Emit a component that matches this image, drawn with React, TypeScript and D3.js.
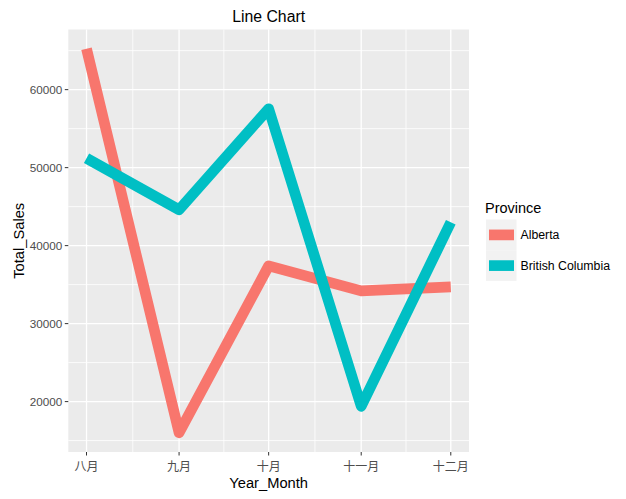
import React from "react";
import * as d3 from "d3";

const monthDates = ["2017-08-01", "2017-09-01", "2017-10-01", "2017-11-01", "2017-12-01"];
const monthLabels = ["八月", "九月", "十月", "十一月", "十二月"];
const provinces = ["Alberta", "British Columbia"];
const albertaSales = [65250, 16000, 37400, 34200, 34700];
const bcSales = [51200, 44600, 57550, 19400, 43000];
const yTicks = [20000, 30000, 40000, 50000, 60000];
const yMinor = [15000, 25000, 35000, 45000, 55000, 65000];
const colors = ["#F8766D", "#00BFC4"];

const W = 626;
const H = 499;
const panel = { left: 68.3, right: 469, top: 29.5, bottom: 452 };
const FONT = "Arial, 'Liberation Sans', sans-serif";
const CJK = "'Noto Sans CJK SC', sans-serif";

export default function App() {
  const parse = d3.timeParse("%Y-%m-%d");
  const dates = monthDates.map((d) => parse(d) as Date);
  const t0 = +dates[0];
  const t1 = +dates[dates.length - 1];
  const tpad = (t1 - t0) * 0.05;
  const x = d3
    .scaleTime()
    .domain([new Date(t0 - tpad), new Date(t1 + tpad)])
    .range([panel.left, panel.right]);

  const all = [...albertaSales, ...bcSales];
  const [vmin, vmax] = d3.extent(all) as [number, number];
  const vpad = (vmax - vmin) * 0.05;
  const y = d3
    .scaleLinear()
    .domain([vmin - vpad, vmax + vpad])
    .range([panel.bottom, panel.top]);

  const xMinor = dates.slice(0, -1).map((d, i) => new Date((+d + +dates[i + 1]) / 2));

  const series = [albertaSales, bcSales];
  const line = d3
    .line<number>()
    .x((_, i) => x(dates[i]))
    .y((v) => y(v));

  const cx = (panel.left + panel.right) / 2;
  const cy = (panel.top + panel.bottom) / 2;

  return (
    <svg
      width={W}
      height={H}
      style={{ position: "absolute", left: 0, top: 0, background: "#fff" }}
    >
      <rect
        x={panel.left}
        y={panel.top}
        width={panel.right - panel.left}
        height={panel.bottom - panel.top}
        fill="#EBEBEB"
      />
      <g stroke="#fff">
        {yMinor.map((v) => (
          <line key={"ym" + v} x1={panel.left} x2={panel.right} y1={y(v)} y2={y(v)} strokeWidth={0.8} />
        ))}
        {xMinor.map((d, i) => (
          <line key={"xm" + i} x1={x(d)} x2={x(d)} y1={panel.top} y2={panel.bottom} strokeWidth={0.8} />
        ))}
        {yTicks.map((v) => (
          <line key={"y" + v} x1={panel.left} x2={panel.right} y1={y(v)} y2={y(v)} strokeWidth={1.3} />
        ))}
        {dates.map((d, i) => (
          <line key={"x" + i} x1={x(d)} x2={x(d)} y1={panel.top} y2={panel.bottom} strokeWidth={1.3} />
        ))}
      </g>
      {series.map((s, k) => (
        <path
          key={provinces[k]}
          d={line(s) || ""}
          fill="none"
          stroke={colors[k]}
          strokeWidth={10.7}
          strokeLinejoin="round"
          strokeLinecap="butt"
        />
      ))}
      {/* y axis */}
      <g>
        {yTicks.map((v) => (
          <g key={"yt" + v}>
            <line x1={panel.left - 3.5} x2={panel.left} y1={y(v)} y2={y(v)} stroke="#333" strokeWidth={1} />
            <text
              x={panel.left - 6}
              y={y(v)}
              dy="0.35em"
              textAnchor="end"
              fontFamily={FONT}
              fontSize={11.7}
              fill="#4D4D4D"
            >
              {v}
            </text>
          </g>
        ))}
      </g>
      {/* x axis */}
      <g>
        {dates.map((d, i) => (
          <g key={"xt" + i}>
            <line x1={x(d)} x2={x(d)} y1={panel.bottom} y2={panel.bottom + 3.5} stroke="#333" strokeWidth={1} />
            <text
              x={x(d)}
              y={panel.bottom + 19}
              textAnchor="middle"
              fontFamily={CJK}
              fontSize={12}
              fill="#4D4D4D"
            >
              {monthLabels[i]}
            </text>
          </g>
        ))}
      </g>
      <text x={cx} y={488} textAnchor="middle" fontFamily={FONT} fontSize={14.7} fill="#000">
        Year_Month
      </text>
      <text
        transform={`translate(23.5,${cy}) rotate(-90)`}
        textAnchor="middle"
        fontFamily={FONT}
        fontSize={14.7}
        fill="#000"
      >
        Total_Sales
      </text>
      <text x={cx} y={21.5} textAnchor="middle" fontFamily={FONT} fontSize={15.8} fill="#000">
        Line Chart
      </text>
      {/* legend */}
      <g>
        <text x={485} y={212.5} fontFamily={FONT} fontSize={14.5} fill="#000">
          Province
        </text>
        {provinces.map((p, k) => {
          const top = 219.5 + k * 30.7;
          return (
            <g key={"lg" + p}>
              <rect x={486} y={top} width={30.5} height={30.7} fill="#F2F2F2" />
              <line
                x1={489}
                x2={514}
                y1={top + 15.4}
                y2={top + 15.4}
                stroke={colors[k]}
                strokeWidth={10.7}
              />
              <text x={520.5} y={top + 15.4} dy="0.35em" fontFamily={FONT} fontSize={12.3} fill="#000">
                {p}
              </text>
            </g>
          );
        })}
      </g>
    </svg>
  );
}
